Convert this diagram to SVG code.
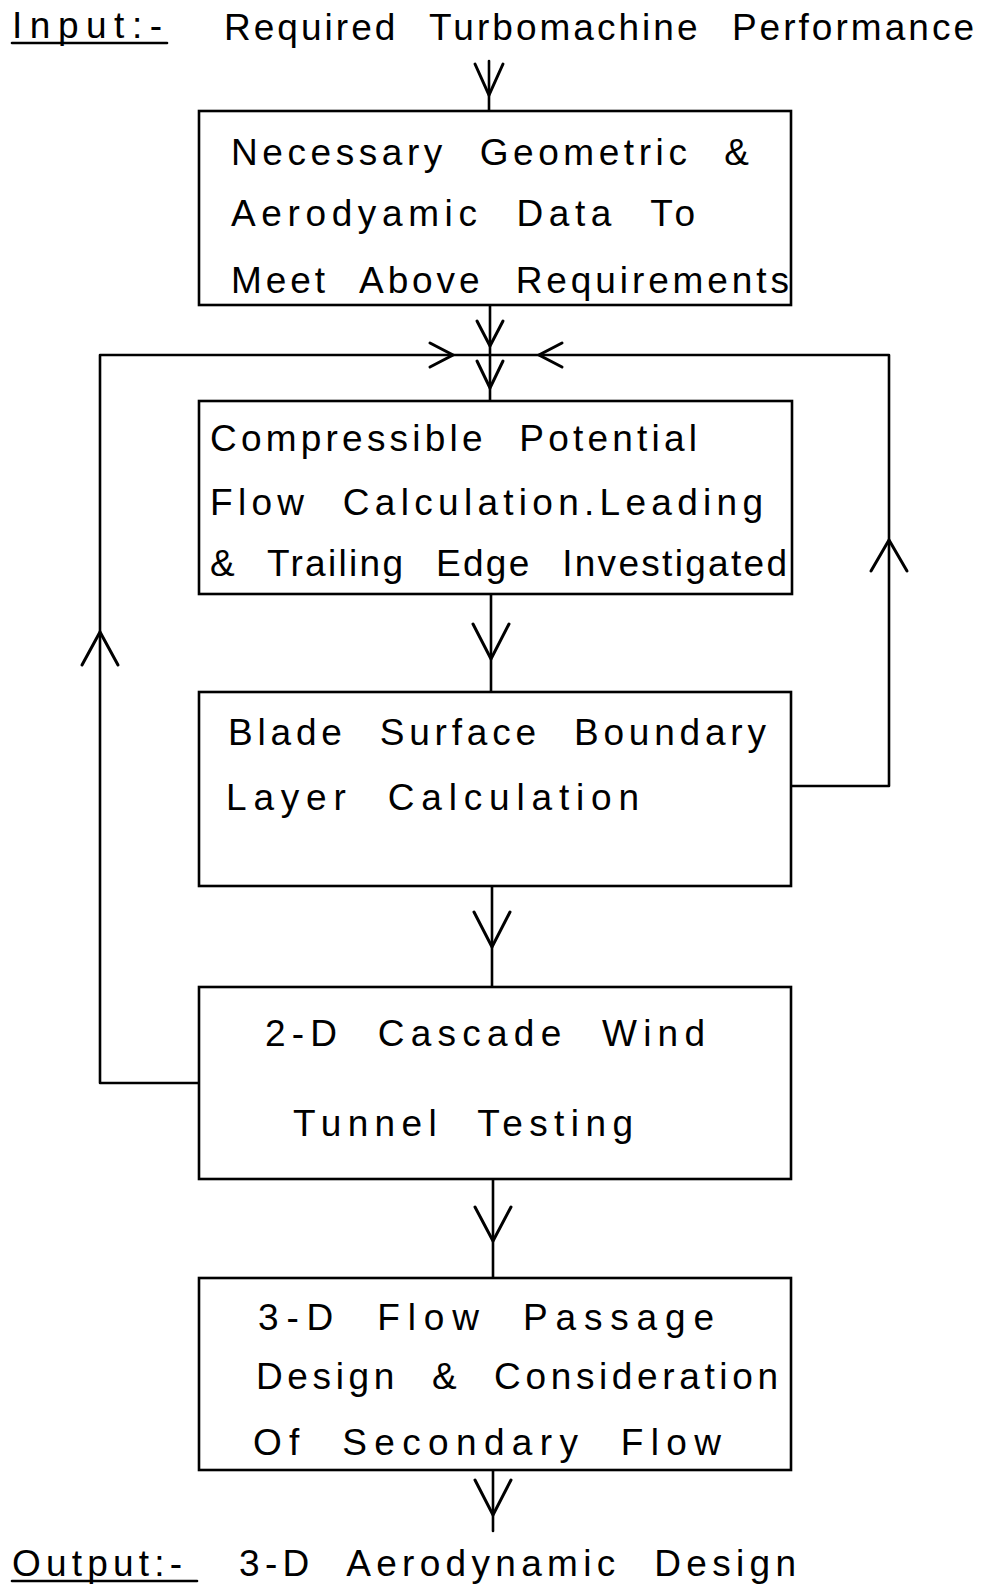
<svg xmlns="http://www.w3.org/2000/svg" width="982" height="1584" viewBox="0 0 982 1584">
<style>
.box{fill:#fff;stroke:#000;stroke-width:2.6}
.ln{fill:none;stroke:#000;stroke-width:2.6;stroke-linecap:round;stroke-linejoin:round}
.ah{fill:none;stroke:#000;stroke-width:3;stroke-linecap:round;stroke-linejoin:miter}
.t{font-family:"Liberation Sans",Arial,sans-serif;font-size:37px;fill:#000;word-spacing:18px}
</style>
<rect width="982" height="1584" fill="#fff"/>
<g id="connectors">
  <line class="ln" x1="489" y1="61" x2="489" y2="111"/>
  <polyline class="ah" points="475,64 489,95 503,64"/>
  <line class="ln" x1="490" y1="305" x2="490" y2="401"/>
  <polyline class="ah" points="477,321 490,346 503,321"/>
  <polyline class="ah" points="477,361 490,388 503,361"/>
  <polyline class="ln" points="199,1083 100,1083 100,355 490,355"/>
  <polyline class="ah" points="82,665 100,632 118,665"/>
  <polyline class="ah" points="430,343 453,355 430,367"/>
  <polyline class="ln" points="791,786 889,786 889,355 490,355"/>
  <polyline class="ah" points="871,571 889,540 907,571"/>
  <polyline class="ah" points="562,343 539,355 562,367"/>
  <line class="ln" x1="491" y1="594" x2="491" y2="692"/>
  <polyline class="ah" points="473,624 491,659 509,624"/>
  <line class="ln" x1="492" y1="886" x2="492" y2="987"/>
  <polyline class="ah" points="474,912 492,947 510,912"/>
  <line class="ln" x1="493" y1="1179" x2="493" y2="1278"/>
  <polyline class="ah" points="475,1207 493,1241 511,1207"/>
  <line class="ln" x1="493" y1="1470" x2="493" y2="1531"/>
  <polyline class="ah" points="475,1480 493,1515 511,1480"/>
</g>
<g id="input">
  <text class="t" x="12" y="38" textLength="150" lengthAdjust="spacing">Input:-</text>
  <line class="ln" x1="12" y1="43" x2="167" y2="43"/>
  <text class="t" x="224" y="40" textLength="750" lengthAdjust="spacing">Required Turbomachine Performance</text>
</g>
<g id="node1">
  <rect class="box" x="199" y="111" width="592" height="194"/>
  <text class="t" x="231" y="165" textLength="518" lengthAdjust="spacing">Necessary Geometric &amp;</text>
  <text class="t" x="231" y="226" textLength="464" lengthAdjust="spacing">Aerodyamic Data To</text>
  <text class="t" x="231" y="293" textLength="558" lengthAdjust="spacing">Meet Above Requirements</text>
</g>
<g id="node2">
  <rect class="box" x="199" y="401" width="593" height="193"/>
  <text class="t" x="210" y="451" textLength="487" lengthAdjust="spacing">Compressible Potential</text>
  <text class="t" x="210" y="515" textLength="553" lengthAdjust="spacing">Flow Calculation.Leading</text>
  <text class="t" x="210" y="576" textLength="577" lengthAdjust="spacing">&amp; Trailing Edge Investigated</text>
</g>
<g id="node3">
  <rect class="box" x="199" y="692" width="592" height="194"/>
  <text class="t" x="228" y="745" textLength="538" lengthAdjust="spacing">Blade Surface Boundary</text>
  <text class="t" x="226" y="810" textLength="413" lengthAdjust="spacing">Layer Calculation</text>
</g>
<g id="node4">
  <rect class="box" x="199" y="987" width="592" height="192"/>
  <text class="t" x="265" y="1046" textLength="440" lengthAdjust="spacing">2-D Cascade Wind</text>
  <text class="t" x="293" y="1136" textLength="340" lengthAdjust="spacing">Tunnel Testing</text>
</g>
<g id="node5">
  <rect class="box" x="199" y="1278" width="592" height="192"/>
  <text class="t" x="258" y="1330" textLength="456" lengthAdjust="spacing">3-D Flow Passage</text>
  <text class="t" x="256" y="1389" textLength="522" lengthAdjust="spacing">Design &amp; Consideration</text>
  <text class="t" x="253" y="1455" textLength="468" lengthAdjust="spacing">Of Secondary Flow</text>
</g>
<g id="output">
  <text class="t" x="12" y="1576" textLength="170" lengthAdjust="spacing">Output:-</text>
  <line class="ln" x1="12" y1="1581" x2="197" y2="1581"/>
  <text class="t" x="239" y="1576" textLength="557" lengthAdjust="spacing">3-D Aerodynamic Design</text>
</g>
</svg>
